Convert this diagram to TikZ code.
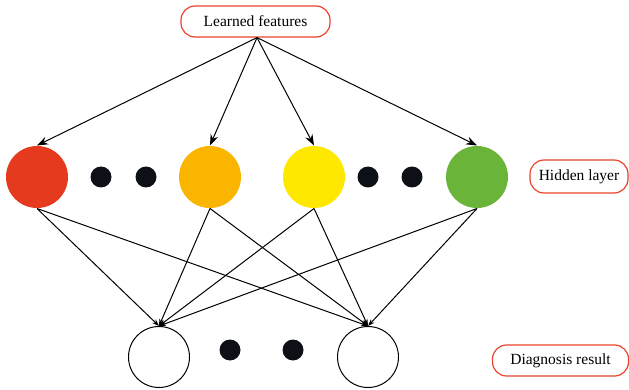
\documentclass[tikz,border=0pt]{standalone}
\usepackage{fontspec}
\setmainfont{Liberation Serif}
\usetikzlibrary{
    arrows.meta,
    calc
}
\definecolor{boxred}{HTML}{E8432B}
\definecolor{nred}{HTML}{E63A1E}
\definecolor{norange}{HTML}{F9B500}
\definecolor{nyellow}{HTML}{FFE800}
\definecolor{ngreen}{HTML}{6AB43A}
\definecolor{dotblack}{HTML}{0D1117}
\tikzset{
  every path/.style={
    line width=1pt
  },
  labelbox/.style={
    draw=boxred,
    line width=1.2pt,
    rounded corners=14pt,
    inner xsep=8pt,
    font=\fontsize{15.5}{18}\selectfont
  },
  hidden/.style={
    circle,
    minimum size=62pt,
    inner sep=0pt
  },
  outnode/.style={
    circle,
    draw=black,
    fill=white,
    minimum size=61pt,
    inner sep=0pt
  },
  blackdot/.style={
    circle,
    fill=dotblack,
    minimum size=21pt,
    inner sep=0pt
  },
  topedge/.style={
    -{Stealth[length=11pt,width=8pt]}
  },
  botedge/.style={
    -{Stealth[length=7pt,width=5pt]}
  }
}

\begin{document}
\begin{tikzpicture}[x=1pt,y=-1pt]
    \useasboundingbox (0,0) rectangle (629,390);
    %-------------------------
    %labels
    %-------------------------
    \node[labelbox,minimum width=149pt,minimum height=31pt] (feat) at (255.5,21.5) {Learned features};
    \node[labelbox,minimum width=98pt,minimum height=33pt] (hid) at (579,176.5) {Hidden layer};
    \node[labelbox,minimum width=136pt,minimum height=31pt] (diag) at (560.5,360.5) {Diagnosis result};

    %-------------------------
    %hidden layer
    %-------------------------
    \node[hidden,fill=nred] (h1) at (37,177) {};
    \node[hidden,fill=norange] (h2) at (210,177) {};
    \node[hidden,fill=nyellow] (h3) at (314,177) {};
    \node[hidden,fill=ngreen] (h4) at (477,177) {};
    \node[blackdot] (d1) at (101,177) {};
    \node[blackdot] (d2) at (146,177) {};
    \node[blackdot] (d3) at (368,177) {};
    \node[blackdot] (d4) at (412,177) {};

    %-------------------------
    %output layer
    %-------------------------
    \node[outnode] (o1) at (159,357) {};
    \node[outnode] (o2) at (368,357) {};
    \node[blackdot] (d5) at (230,350) {};
    \node[blackdot] (d6) at (293,350) {};

    \coordinate (src) at ($(feat.south)+(1.5,0)$);
    \foreach \h in {h1,h2,h3,h4}{
        \draw[topedge] (src) -- (\h.north);
    }
    \foreach \h in {h1,h2,h3,h4}{
        \draw[botedge] (\h.south) -- (o1.north);
        \draw[botedge] (\h.south) -- (o2.north);
    }

    \end{tikzpicture}
\end{document}
